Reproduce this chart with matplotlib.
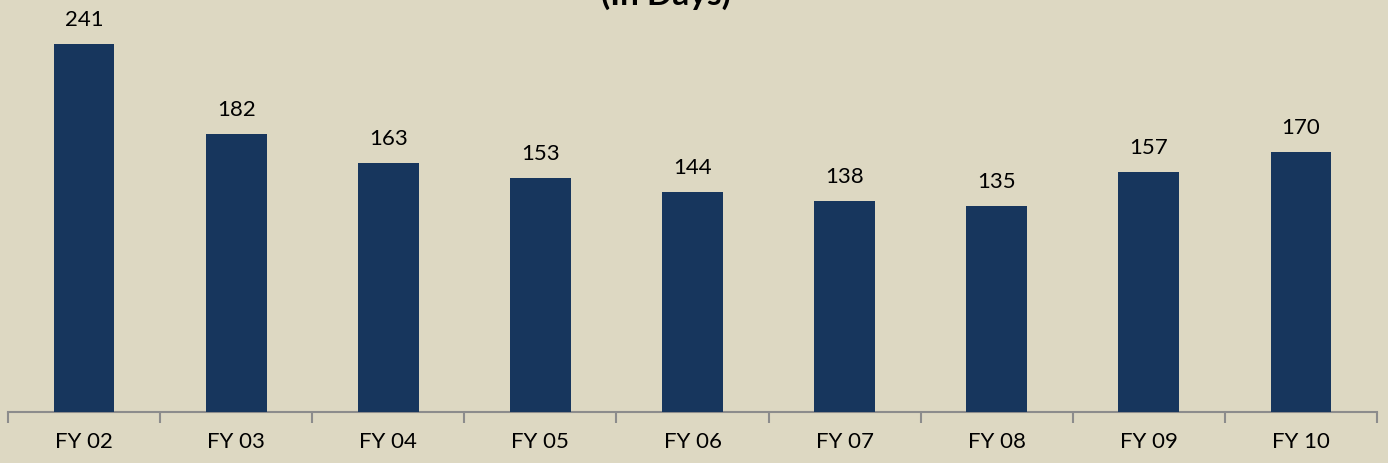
import matplotlib.pyplot as plt

# Chart data
years = ["FY 02", "FY 03", "FY 04", "FY 05", "FY 06", "FY 07", "FY 08", "FY 09", "FY 10"]
days = [241, 182, 163, 153, 144, 138, 135, 157, 170]

BG = "#DDD8C2"
BAR = "#17365D"
AXIS = "#8C8C8C"

plt.rcParams["font.family"] = ["Lato", "DejaVu Sans"]

fig = plt.figure(figsize=(13.88, 4.64), dpi=100, facecolor=BG)
ax = fig.add_axes([8 / 1388, 51 / 464, 1369 / 1388, 413 / 464])
ax.set_facecolor(BG)

x = range(len(years))
bars = ax.bar(x, days, width=0.4, color=BAR, zorder=3)

for b, v in zip(bars, days):
    ax.annotate(str(v), (b.get_x() + b.get_width() / 2, v), xytext=(0, 11),
                textcoords="offset points", ha="center", va="bottom", fontsize=16)

ax.set_xlim(-0.5, len(years) - 0.5)
ax.set_ylim(0, 270.5)

# category boundaries as ticks, labels centred under bars
ax.set_xticks([i - 0.5 for i in range(len(years) + 1)])
ax.set_xticklabels([])
ax.set_xticks(list(x), minor=True)
ax.set_xticklabels(years, minor=True, fontsize=16)
ax.tick_params(axis="x", which="major", length=8, width=1.5, color=AXIS)
ax.tick_params(axis="x", which="minor", length=0, pad=14)
ax.set_yticks([])

for s in ["top", "right", "left"]:
    ax.spines[s].set_visible(False)
ax.spines["bottom"].set_color(AXIS)
ax.spines["bottom"].set_linewidth(1.5)

# title is partly cut off at the top of the image
fig.text(666 / 1388, 1 - 10 / 464, "(In Days)", ha="center", va="bottom",
         fontsize=24, fontweight="bold")

fig.savefig("out.png", dpi=100, facecolor=BG)
